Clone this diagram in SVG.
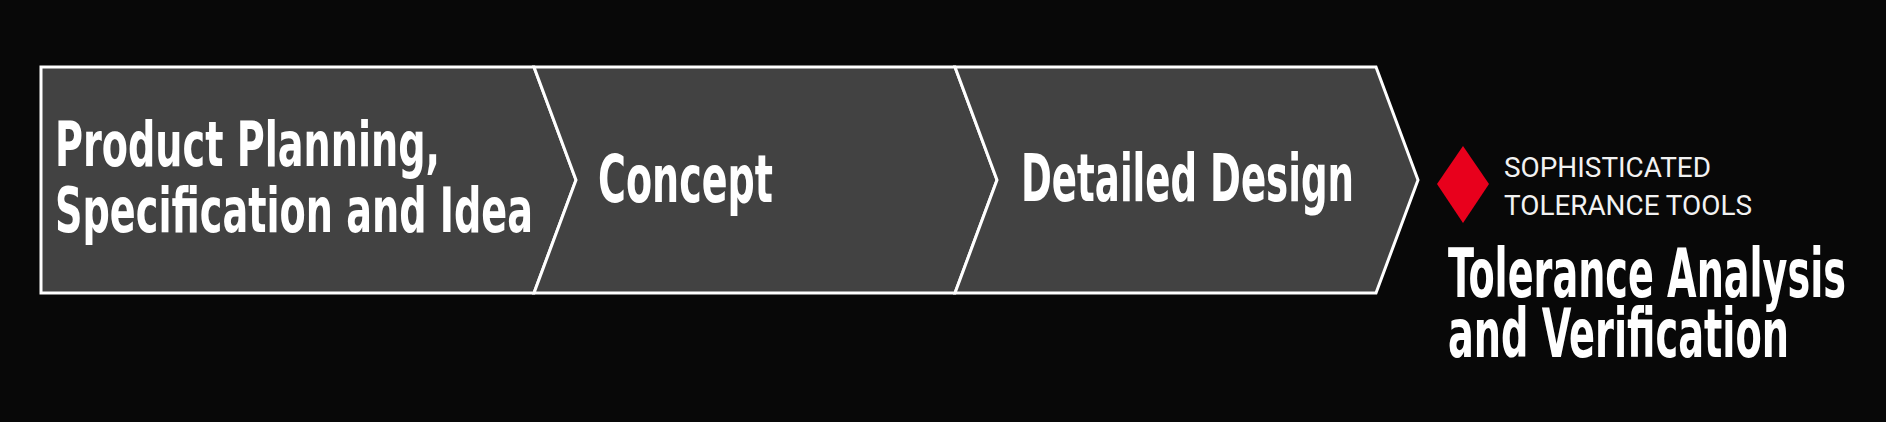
<svg xmlns="http://www.w3.org/2000/svg" width="1886" height="422" viewBox="0 0 1886 422">
<style>
.bg{fill:#080808}
.step{fill:#424242;stroke:#ffffff;stroke-width:3;stroke-linejoin:miter}
.big{font-family:"Liberation Sans Narrow","DejaVu Sans Condensed","Liberation Sans",sans-serif;font-weight:bold;fill:#ffffff}
.small{font-family:Roboto,"Liberation Sans",sans-serif;font-size:28px;fill:#f2f2f2}
</style>
<rect class="bg" x="0" y="0" width="1886" height="422"/>
<g id="step1">
<polygon class="step" points="41,67 534,67 576,180 534,293 41,293"/>
<text class="big" font-size="62" x="55" y="166" textLength="385" lengthAdjust="spacingAndGlyphs">Product Planning,</text>
<text class="big" font-size="62" x="55" y="232" textLength="478" lengthAdjust="spacingAndGlyphs">Specification and Idea</text>
</g>
<g id="step2">
<polygon class="step" points="534,67 955,67 997,180 955,293 534,293 576,180"/>
<text class="big" font-size="66" x="598" y="202" textLength="175" lengthAdjust="spacingAndGlyphs">Concept</text>
</g>
<g id="step3">
<polygon class="step" points="955,67 1376,67 1418,180 1376,293 955,293 997,180"/>
<text class="big" font-size="66" x="1021" y="201" textLength="333" lengthAdjust="spacingAndGlyphs">Detailed Design</text>
</g>
<g id="result">
<polygon fill="#e8001c" points="1463,146 1489,184 1463,223 1437,184"/>
<text class="small" x="1504" y="177" textLength="207" lengthAdjust="spacingAndGlyphs">SOPHISTICATED</text>
<text class="small" x="1504" y="215" textLength="248" lengthAdjust="spacingAndGlyphs">TOLERANCE TOOLS</text>
<text class="big" font-size="68" x="1448" y="297" textLength="398" lengthAdjust="spacingAndGlyphs">Tolerance Analysis</text>
<text class="big" font-size="68" x="1448" y="357" textLength="341" lengthAdjust="spacingAndGlyphs">and Verification</text>
</g>
<g id="connectors"></g>
</svg>
